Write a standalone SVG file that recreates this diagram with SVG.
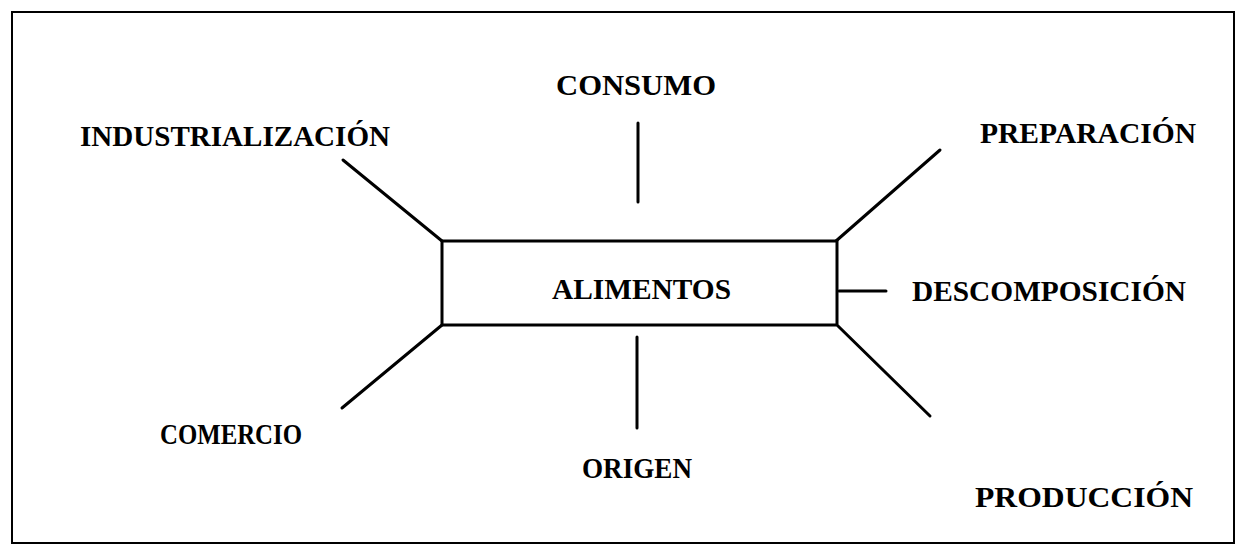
<svg xmlns="http://www.w3.org/2000/svg" width="1247" height="554" viewBox="0 0 1247 554">
<style>
.lbl{font-family:"Liberation Serif","Times New Roman",serif;font-weight:bold;font-size:30px;fill:#000}
.ln{stroke:#000;stroke-width:3;fill:none;stroke-linecap:round}
</style>
<rect x="0" y="0" width="1247" height="554" fill="#fff"/>
<rect id="frame" x="12" y="12" width="1222" height="531" fill="none" stroke="#000" stroke-width="2"/>
<g id="connectors">
<line class="ln" x1="343" y1="160" x2="442" y2="241"/>
<line class="ln" x1="638" y1="123" x2="638" y2="202"/>
<line class="ln" x1="940" y1="150" x2="836" y2="241"/>
<line class="ln" x1="839" y1="291" x2="886" y2="291"/>
<line class="ln" x1="838" y1="326" x2="930" y2="416"/>
<line class="ln" x1="637" y1="337" x2="637" y2="428"/>
<line class="ln" x1="442" y1="325" x2="342" y2="408"/>
</g>
<g id="alimentos">
<rect x="442" y="241" width="395" height="84" fill="#fff" stroke="#000" stroke-width="3"/>
<text class="lbl" x="552" y="299" textLength="179" lengthAdjust="spacingAndGlyphs">ALIMENTOS</text>
</g>
<g id="industrializacion"><text class="lbl" x="80" y="146" textLength="310" lengthAdjust="spacingAndGlyphs">INDUSTRIALIZACIÓN</text></g>
<g id="consumo"><text class="lbl" x="556" y="95" textLength="160" lengthAdjust="spacingAndGlyphs">CONSUMO</text></g>
<g id="preparacion"><text class="lbl" x="980" y="143" textLength="216" lengthAdjust="spacingAndGlyphs">PREPARACIÓN</text></g>
<g id="descomposicion"><text class="lbl" x="912" y="301" textLength="274" lengthAdjust="spacingAndGlyphs">DESCOMPOSICIÓN</text></g>
<g id="comercio"><text class="lbl" x="160" y="444" textLength="142" lengthAdjust="spacingAndGlyphs">COMERCIO</text></g>
<g id="origen"><text class="lbl" x="582" y="478" textLength="110" lengthAdjust="spacingAndGlyphs">ORIGEN</text></g>
<g id="produccion"><text class="lbl" x="975" y="507" textLength="218" lengthAdjust="spacingAndGlyphs">PRODUCCIÓN</text></g>
</svg>
